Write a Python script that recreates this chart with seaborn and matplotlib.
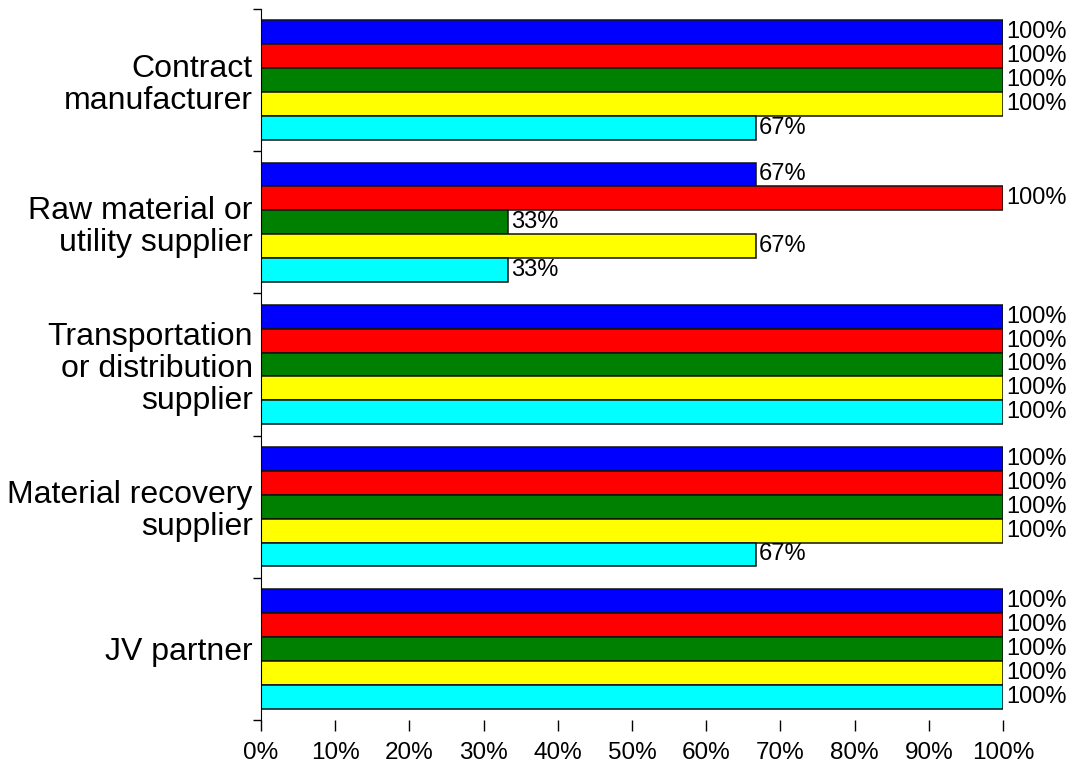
import pandas as pd
import numpy as np
import seaborn as sns
import matplotlib.pyplot as plt

categories = ["Contract\nmanufacturer", "Raw material or\nutility supplier",
              "Transportation\nor distribution\nsupplier", "Material recovery\nsupplier", "JV partner"]
series = ["Series 1", "Series 2", "Series 3", "Series 4", "Series 5"]
colors = ["#0000FF", "#FF0000", "#008000", "#FFFF00", "#00FFFF"]
# percent values, one list per series (top to bottom inside each group)
s1 = [100, 66.7, 100, 100, 100]
s2 = [100, 100, 100, 100, 100]
s3 = [100, 33.3, 100, 100, 100]
s4 = [100, 66.7, 100, 100, 100]
s5 = [66.7, 33.3, 100, 66.7, 100]

df = pd.DataFrame({"category": categories * 5,
                   "series": np.repeat(series, len(categories)),
                   "value": s1 + s2 + s3 + s4 + s5})

sns.set_style("white")
plt.rcParams["font.family"] = ["Liberation Sans", "DejaVu Sans"]
plt.rcParams.update({"text.color": "black", "xtick.color": "black", "ytick.color": "black",
                     "axes.labelcolor": "black"})

fig = plt.figure(figsize=(10.71, 7.74), dpi=100)
ax = fig.add_axes([0.2437, 0.0698, 0.9365 - 0.2437, 0.9884 - 0.0698])
sns.barplot(data=df, y="category", x="value", hue="series", palette=dict(zip(series, colors)),
            order=categories, hue_order=series, orient="h", width=0.84, gap=0,
            edgecolor="#111111", linewidth=1.1, saturation=1, legend=False, ax=ax)

for c in ax.containers:
    ax.bar_label(c, labels=[f"{v:.0f}%" for v in c.datavalues], padding=2, fontsize=17, color="black")

ax.set_xlim(0, 100)
ax.set_ylim(4.5, -0.5)
ax.set_xticks(range(0, 101, 10))
ax.set_xticklabels([f"{x}%" for x in range(0, 101, 10)], fontsize=17.5)
ax.set_yticks(np.arange(-0.5, 5, 1))
ax.set_yticklabels([])
ax.set_yticks(range(len(categories)), minor=True)
ax.set_yticklabels(categories, minor=True, fontsize=23, linespacing=1.1)
ax.tick_params(axis="y", which="major", length=6, width=1, direction="out", left=True)
ax.tick_params(axis="y", which="minor", length=0, pad=6)
ax.tick_params(axis="x", length=8, width=1, direction="out", bottom=True, pad=8)
ax.set_xlabel("")
ax.set_ylabel("")
for s in ["top", "right", "bottom"]:
    ax.spines[s].set_visible(False)
ax.spines["left"].set_color("black")

plt.savefig("out.png", dpi=100)
